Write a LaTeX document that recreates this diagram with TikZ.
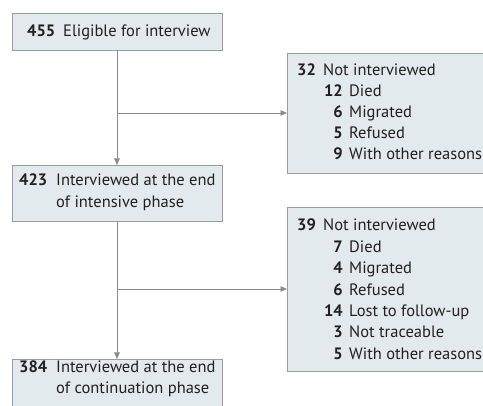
\documentclass[tikz,border=0pt]{standalone}
\usepackage{fontspec}
\setmainfont{PT Sans}
\usetikzlibrary{arrows.meta}
\definecolor{boxfill}{HTML}{E3EAED}
\definecolor{boxline}{HTML}{9A9C9E}
\definecolor{connc}{HTML}{8A8C8E}
\definecolor{txt}{HTML}{231F20}
\begin{document}
\begin{tikzpicture}[x=1pt,y=-1pt,
 boxst/.style={draw=boxline, fill=boxfill, line width=0.9pt, inner sep=0pt, outer sep=0pt, anchor=north west},
 lbl/.style={anchor=base west, inner sep=0pt, text=txt, font=\fontsize{16.5}{19}\selectfont},
 numw/.style={anchor=base west, inner sep=0pt, text=txt, font=\fontsize{16.5}{19}\selectfont\bfseries},
 nume/.style={anchor=base east, inner sep=0pt, text=txt, font=\fontsize{16.5}{19}\selectfont\bfseries},
 connst/.style={draw=connc, line width=0.9pt},
 arr/.style={connst, -{Triangle[length=6.5pt,width=5.5pt]}}]
\useasboundingbox (0,0) rectangle (483,406);
\clip (0,0) rectangle (483,406);
% boxes
\node[boxst, minimum width=210pt, minimum height=37pt] (b1) at (12,13) {};
\node[boxst, minimum width=210pt, minimum height=120pt] (b2) at (287,53) {};
\node[boxst, minimum width=210pt, minimum height=56pt] (b3) at (12,165) {};
\node[boxst, minimum width=210pt, minimum height=164pt] (b4) at (287,207) {};
\node[boxst, minimum width=210pt, minimum height=60pt] (b5) at (12,359) {};
% connectors
\draw[arr] (b1.south) -- (b3.north);
\draw[arr] (b1.south |- b2.west) -- (b2.west);
\draw[arr] (b3.south) -- (b5.north);
\draw[arr] (b3.south |- b4.west) -- (b4.west);
% box 1
\node[numw] (n1) at (27,37) {455};
\node[lbl] (l1) at (63,37) {Eligible for interview};
% box 2
\node[numw] (n2) at (297,76) {32};
\node[lbl] (l2) at (323,76) {Not interviewed};
\node[nume] (n2a) at (343,97) {12};
\node[lbl] (l2a) at (349,97) {Died};
\node[nume] (n2b) at (343,118) {6};
\node[lbl] (l2b) at (349,118) {Migrated};
\node[nume] (n2c) at (343,139) {5};
\node[lbl] (l2c) at (349,139) {Refused};
\node[nume] (n2d) at (343,160) {9};
\node[lbl] (l2d) at (349,160) {With other reasons};
% box 3
\node[numw] (n3) at (19,186) {423};
\node[lbl] (l3a) at (56,186) {Interviewed at the end};
\node[lbl] (l3b) at (56,207.5) {of intensive phase};
% box 4
\node[numw] (n4) at (297,231) {39};
\node[lbl] (l4) at (323,231) {Not interviewed};
\node[nume] (n4a) at (343,252.4) {7};
\node[lbl] (l4a) at (349,252.4) {Died};
\node[nume] (n4b) at (343,273.8) {4};
\node[lbl] (l4b) at (349,273.8) {Migrated};
\node[nume] (n4c) at (343,295.2) {6};
\node[lbl] (l4c) at (349,295.2) {Refused};
\node[nume] (n4d) at (343,316.6) {14};
\node[lbl] (l4d) at (349,316.6) {Lost to follow-up};
\node[nume] (n4e) at (343,338) {3};
\node[lbl] (l4e) at (349,338) {Not traceable};
\node[nume] (n4f) at (343,359.4) {5};
\node[lbl] (l4f) at (349,359.4) {With other reasons};
% box 5
\node[numw] (n5) at (19,373) {384};
\node[lbl] (l5a) at (56,373) {Interviewed at the end};
\node[lbl] (l5b) at (56,394) {of continuation phase};
\end{tikzpicture}
\end{document}
